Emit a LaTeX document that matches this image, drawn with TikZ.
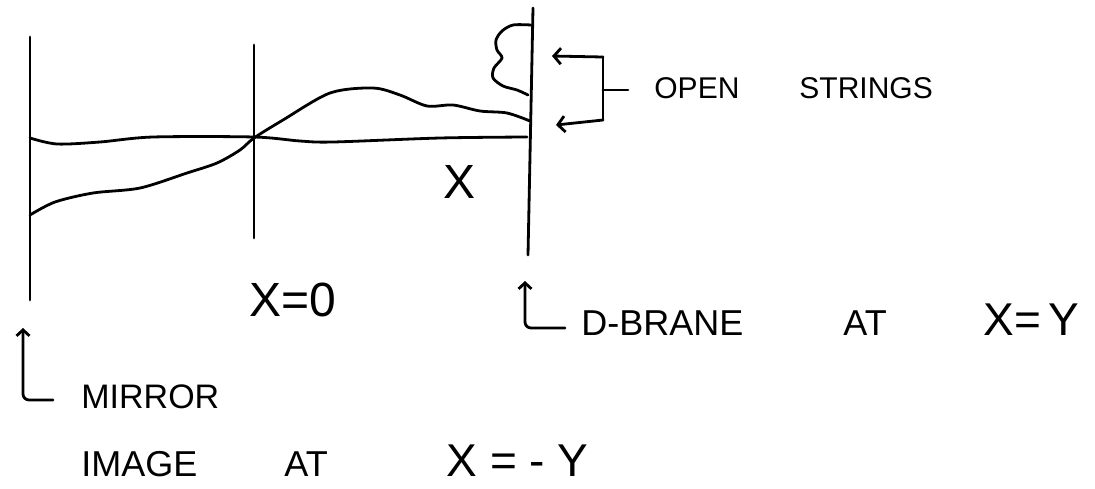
\documentclass[tikz,border=0pt]{standalone}
\usepackage{fontspec}
\setmainfont{Liberation Sans}
\usetikzlibrary{arrows.meta}

\begin{document}
\begin{tikzpicture}[x=1pt, y=-1pt, line width=2.8pt, line cap=round, line join=round,
    >={Straight Barb[length=7pt, width=16pt]},
    uparrow/.style={-{Straight Barb[length=6pt, width=13pt]}, rounded corners=6pt}]
  % 文字サイズ
  \def\sz#1{\fontsize{#1}{#1}\selectfont}

  % 全体の大きさ
  \useasboundingbox (0,0) rectangle (1095,488);

  % 縦線の端点 (鏡, X=0, D-brane)
  \coordinate (M0) at (30,37);
  \coordinate (M1) at (30,300);
  \coordinate (O0) at (254,45);
  \coordinate (O1) at (254,238);
  \coordinate (D0) at (533,8);
  \coordinate (D1) at (528,255);

  % 縦線
  \draw (M0) -- (M1);
  \draw (O0) -- (O1);
  \draw (D0) -- (D1);

  % 横軸
  \draw plot[smooth] coordinates {(30,138) (57,144) (100,142) (153,137) (254,137)
    (300,141) (333,142) (440,138) (527,137)};

  % 鏡像から D-brane までの弦
  \draw plot[smooth] coordinates {(30,215) (55,202) (93,193) (140,188) (187,173)
    (217,163) (240,150) (254,138) (283,120) (330,93) (373,88) (400,95) (427,106)
    (453,105) (480,111) (507,113) (530,121)};

  % D-brane 上の小さな弦
  \draw plot[smooth] coordinates {(531,25) (513,25) (502,31) (496,40) (497,50)
    (502,58) (494,68) (493,78) (503,86) (517,90) (528,95)};

  % 括弧と矢印 (OPEN STRINGS)
  \coordinate (B0) at (603,57);
  \coordinate (B1) at (603,120);
  \coordinate (Bm) at (603,90);
  \coordinate (Bs) at (628,90);
  \coordinate (T0) at (552,56);
  \coordinate (T1) at (556,125);
  \draw (B0) -- (B1);
  \draw[->] (B0) -- (T0);
  \draw[->] (B1) -- (T1);
  \draw (Bm) -- (Bs);
  \node[anchor=base west, inner sep=0pt] (openlbl) at (653,98) {\sz{30}OPEN\hspace{2em}STRINGS};

  % 軸のラベル
  \node[anchor=base, inner sep=0pt] (xlbl) at (460,198) {\sz{48}X};
  \node[anchor=base, inner sep=0pt] (xzerolbl) at (293,316) {\sz{48}X=0};

  % D-brane の位置
  \coordinate (dTip) at (525,281);
  \coordinate (dEnd) at (565,328);
  \draw[uparrow] (dEnd) -| (dTip);
  \node[anchor=base west, inner sep=0pt] (dbranelbl) at (580,335)
    {\sz{36}D-BRANE\hspace{100pt}AT\hspace{97pt}{\sz{46}X=\,Y}};

  % 鏡像の位置
  \coordinate (mTip) at (23,328);
  \coordinate (mEnd) at (53,400);
  \draw[uparrow] (mEnd) -| (mTip);
  \node[anchor=base west, inner sep=0pt] (mirrorlbl) at (80,408) {\sz{34}MIRROR};
  \node[anchor=base west, inner sep=0pt] (imagelbl) at (80,476)
    {\sz{36}IMAGE\hspace{87pt}AT\hspace{119pt}{\sz{46}X = - Y}};

\end{tikzpicture}
\end{document}
